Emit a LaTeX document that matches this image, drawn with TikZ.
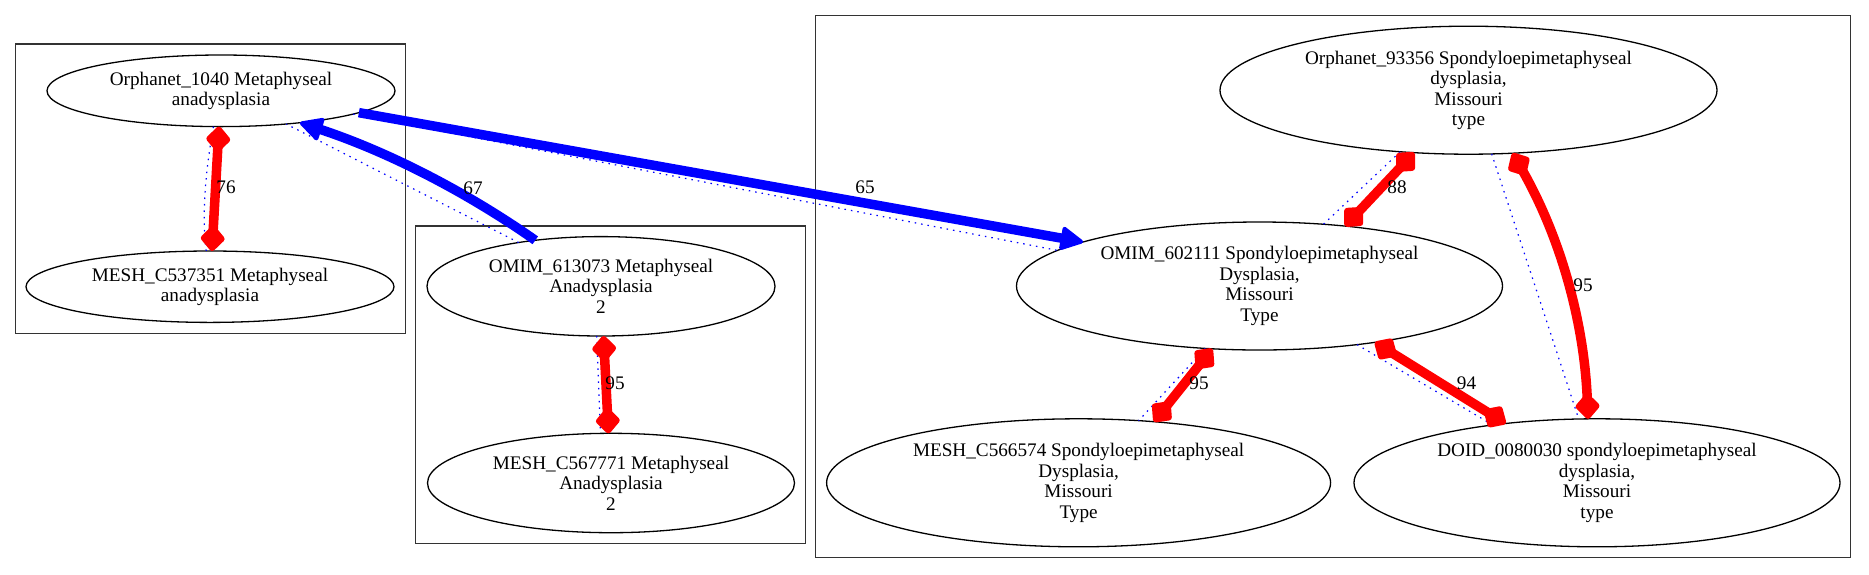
\documentclass[tikz,border=0pt]{standalone}
\usepackage{fontspec}
\setmainfont{Liberation Serif}
\usetikzlibrary{shapes.geometric,arrows.meta}
\begin{document}
\begin{tikzpicture}[x=1pt,y=-1pt,
  ell/.style={draw=black, line width=1.3pt, ellipse, inner sep=0pt, outer sep=0pt, align=center, font=\fontsize{19.2}{20.5}\selectfont},
  clus/.style={draw=black!80, line width=1.3pt},
  redge/.style={draw=red, line width=9.5pt, {Diamond[length=28pt,width=26pt,line width=6pt,round]}-{Diamond[length=28pt,width=26pt,line width=6pt,round]}},
  bedge/.style={draw=blue, line width=9.5pt, -{Triangle[length=25pt,width=25pt,line width=4pt,round]}},
  dotedge/.style={draw=blue, line width=1.2pt, dash pattern=on 1.5pt off 5pt},
  lbl/.style={font=\fontsize{19.2}{20.5}\selectfont, inner sep=0pt}
]
\useasboundingbox (0,0) rectangle (1869,574);
\fill[white] (0,0) rectangle (1869,574);
% clusters
\draw[clus] (15.7,44) rectangle (405.3,333.3);
\draw[clus] (415.8,226) rectangle (805.4,543.5);
\draw[clus] (815.5,15.3) rectangle (1850.4,557.3);
% nodes
\node[ell, minimum width=348pt, minimum height=71.6pt] (o1040) at (221,90.8) {Orphanet\_1040 Metaphyseal\\anadysplasia};
\node[ell, minimum width=368pt, minimum height=71.4pt] (m537) at (210,286.7) {MESH\_C537351 Metaphyseal\\anadysplasia};
\node[ell, minimum width=348pt, minimum height=99.4pt] (o613) at (601,286.3) {OMIM\_613073 Metaphyseal\\Anadysplasia\\2};
\node[ell, minimum width=367pt, minimum height=99.4pt] (m567) at (611,483) {MESH\_C567771 Metaphyseal\\Anadysplasia\\2};
\node[ell, minimum width=497pt, minimum height=128pt] (o93) at (1468.5,90.2) {Orphanet\_93356 Spondyloepimetaphyseal\\dysplasia,\\Missouri\\type};
\node[ell, minimum width=486pt, minimum height=128pt] (o602) at (1259.5,286) {OMIM\_602111 Spondyloepimetaphyseal\\Dysplasia,\\Missouri\\Type};
\node[ell, minimum width=504pt, minimum height=128pt] (m566) at (1078.6,482.8) {MESH\_C566574 Spondyloepimetaphyseal\\Dysplasia,\\Missouri\\Type};
\node[ell, minimum width=486pt, minimum height=128pt] (d008) at (1597,482.8) {DOID\_0080030 spondyloepimetaphyseal\\dysplasia,\\Missouri\\type};
% dotted edges
\draw[dotedge] (o1040.-102.8) .. controls +(-7,40) and +(-5,-40) .. (m537.96.4);
\draw[dotedge] (o613.152.3) -- (o1040.-27.4);
\draw[dotedge] (o1040.-10.5) -- (o602.170.0);
\draw[dotedge] (o93.-138.2) -- (o602.44.0);
\draw[dotedge] (o93.-70.5) -- (d008.106.2);
\draw[dotedge] (o602.-131.6) -- (m566.46.5);
\draw[dotedge] (o602.-31.5) -- (d008.151.0);
\draw[dotedge] (o613.-95) -- (m567.102);
% thick edges
\draw[redge] (o1040) -- (m537);
\draw[bedge] (o613.145.8) .. controls +(-72.5,-51) and +(84,27.7) .. (o1040.-22.1);
\draw[bedge] (o1040.-9.1) -- (o602.166.3);
\draw[redge] (o93.-131.4) -- (o602.35.6);
\draw[redge] (o93.-55.7) .. controls +(47.9,83.8) and +(-3.7,-96.4) .. (d008.98.6);
\draw[redge] (o602.-127.6) -- (m566.39.7);
\draw[redge] (o602.-26.8) -- (d008.147.4);
\draw[redge] (o613) -- (m567);
% labels
\node[lbl] (l76) at (226,187) {76};
\node[lbl] (l67) at (473,188) {67};
\node[lbl] (l65) at (865,187) {65};
\node[lbl] (l88) at (1397,187) {88};
\node[lbl] (l95a) at (1583,285) {95};
\node[lbl] (l95b) at (1199,383) {95};
\node[lbl] (l94) at (1466.5,383) {94};
\node[lbl] (l95c) at (615,383) {95};
\end{tikzpicture}
\end{document}
